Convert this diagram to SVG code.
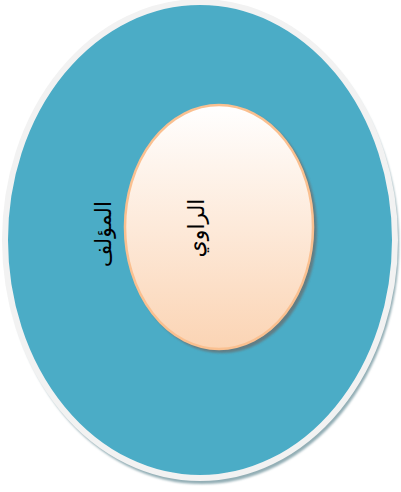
<svg xmlns="http://www.w3.org/2000/svg" width="401" height="492" viewBox="0 0 401 492">
  <defs>
    <linearGradient id="peach" x1="0" y1="0" x2="0" y2="1">
      <stop offset="0" stop-color="#ffffff"/>
      <stop offset="1" stop-color="#fbd4b4"/>
    </linearGradient>
    <filter id="blur" x="-10%" y="-10%" width="120%" height="120%">
      <feGaussianBlur stdDeviation="1"/>
    </filter>
  </defs>
  <style>
    .lbl { font-family: "DejaVu Sans", "Noto Sans", sans-serif; font-size: 22px; fill: #000000; text-anchor: middle; dominant-baseline: central; }
  </style>
  <rect width="401" height="492" fill="#ffffff"/>
  <g id="outer">
    <ellipse cx="202" cy="244" rx="197" ry="240" fill="#93aeb5" filter="url(#blur)"/>
    <ellipse cx="200" cy="240" rx="195" ry="238" fill="#4bacc6" stroke="#f2f2f2" stroke-width="6"/>
    <text class="lbl" transform="translate(103,234) rotate(-90)">المؤلف</text>
  </g>
  <g id="inner">
    <ellipse cx="222" cy="230" rx="95" ry="123" fill="#6b6b6b" opacity="0.7" filter="url(#blur)"/>
    <ellipse cx="219" cy="227" rx="94" ry="122" fill="url(#peach)" stroke="#fac090" stroke-width="2.5"/>
    <text class="lbl" transform="translate(196,228) rotate(-90)">الراوي</text>
  </g>
</svg>
